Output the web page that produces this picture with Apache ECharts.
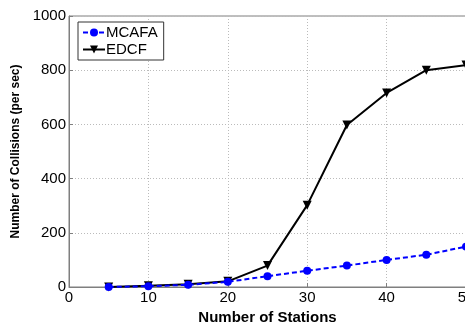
<!DOCTYPE html>
<html>
<head>
<meta charset="utf-8">
<script src="https://cdn.jsdelivr.net/npm/echarts@6/dist/echarts.min.js"></script>
<style>
html,body{margin:0;padding:0;background:#fff;}
#chart{width:465px;height:322px;}
</style>
</head>
<body>
<div id="chart"></div>
<script>
var stations = [5, 10, 15, 20, 25, 30, 35, 40, 45, 50];
var mcafa = [0, 3, 8, 19, 40, 60, 79, 100, 119, 149];
var edcf = [0, 5, 10, 21, 79, 302, 598, 716, 800, 819];
var xTicks = [0, 10, 20, 30, 40, 50];
var yTicks = [0, 200, 400, 600, 800, 1000];

function pairs(xs, ys) { return xs.map(function (x, i) { return [x, ys[i]]; }); }

var font = 'Liberation Sans, Arial, sans-serif';
var chart = echarts.init(document.getElementById('chart'), null, {renderer: 'canvas'});
chart.setOption({
  animation: false,
  backgroundColor: '#fff',
  grid: {left: 69, top: 16, right: -1, bottom: 35, show: true, borderColor: '#7f7f7f', borderWidth: 1,
         containLabel: false, outerBoundsMode: 'none'},
  legend: {
    orient: 'vertical', left: 78, top: 22,
    padding: [3, 6, 3, 4], itemGap: 2, itemWidth: 22, itemHeight: 10,
    borderColor: '#333', borderWidth: 1, backgroundColor: '#fff',
    textStyle: {fontFamily: font, fontSize: 15, color: '#000', padding: [0, 0, 0, -4]},
    data: ['MCAFA', 'EDCF']
  },
  xAxis: {
    type: 'value', min: xTicks[0], max: xTicks[xTicks.length - 1], interval: 10,
    name: 'Number of Stations', nameLocation: 'middle', nameGap: 17,
    nameTextStyle: {fontFamily: font, fontSize: 15, fontWeight: 'bold', color: '#000'},
    axisLine: {show: true, lineStyle: {color: '#7f7f7f'}},
    axisTick: {show: true, inside: true, length: 4, lineStyle: {color: '#7f7f7f'}},
    axisLabel: {fontFamily: font, fontSize: 15, color: '#000', margin: 3,
                formatter: function (v) { return String(v); }},
    splitLine: {show: true, lineStyle: {color: '#bbb', type: [1, 2], width: 1}}
  },
  yAxis: {
    type: 'value', min: yTicks[0], max: yTicks[yTicks.length - 1], interval: 200,
    name: 'Number of Collisions (per sec)', nameLocation: 'middle', nameGap: 45,
    nameTextStyle: {fontFamily: font, fontSize: 12, fontWeight: 'bold', color: '#000'},
    axisLine: {show: true, lineStyle: {color: '#7f7f7f'}},
    axisTick: {show: true, inside: true, length: 4, lineStyle: {color: '#7f7f7f'}},
    axisLabel: {fontFamily: font, fontSize: 15, color: '#000', margin: 3,
                formatter: function (v) { return String(v); }},
    splitLine: {show: true, lineStyle: {color: '#bbb', type: [1, 2], width: 1}}
  },
  series: [
    {
      name: 'EDCF', type: 'line', data: pairs(stations, edcf),
      symbol: 'triangle', symbolRotate: 180, symbolSize: 9,
      lineStyle: {color: '#000', width: 2},
      itemStyle: {color: '#000'}, z: 2
    },
    {
      name: 'MCAFA', type: 'line', data: pairs(stations, mcafa),
      symbol: 'circle', symbolSize: 8,
      lineStyle: {color: '#0000ff', width: 2, type: [5, 3]},
      itemStyle: {color: '#0000ff'}, z: 3
    }
  ]
});
</script>
</body>
</html>
